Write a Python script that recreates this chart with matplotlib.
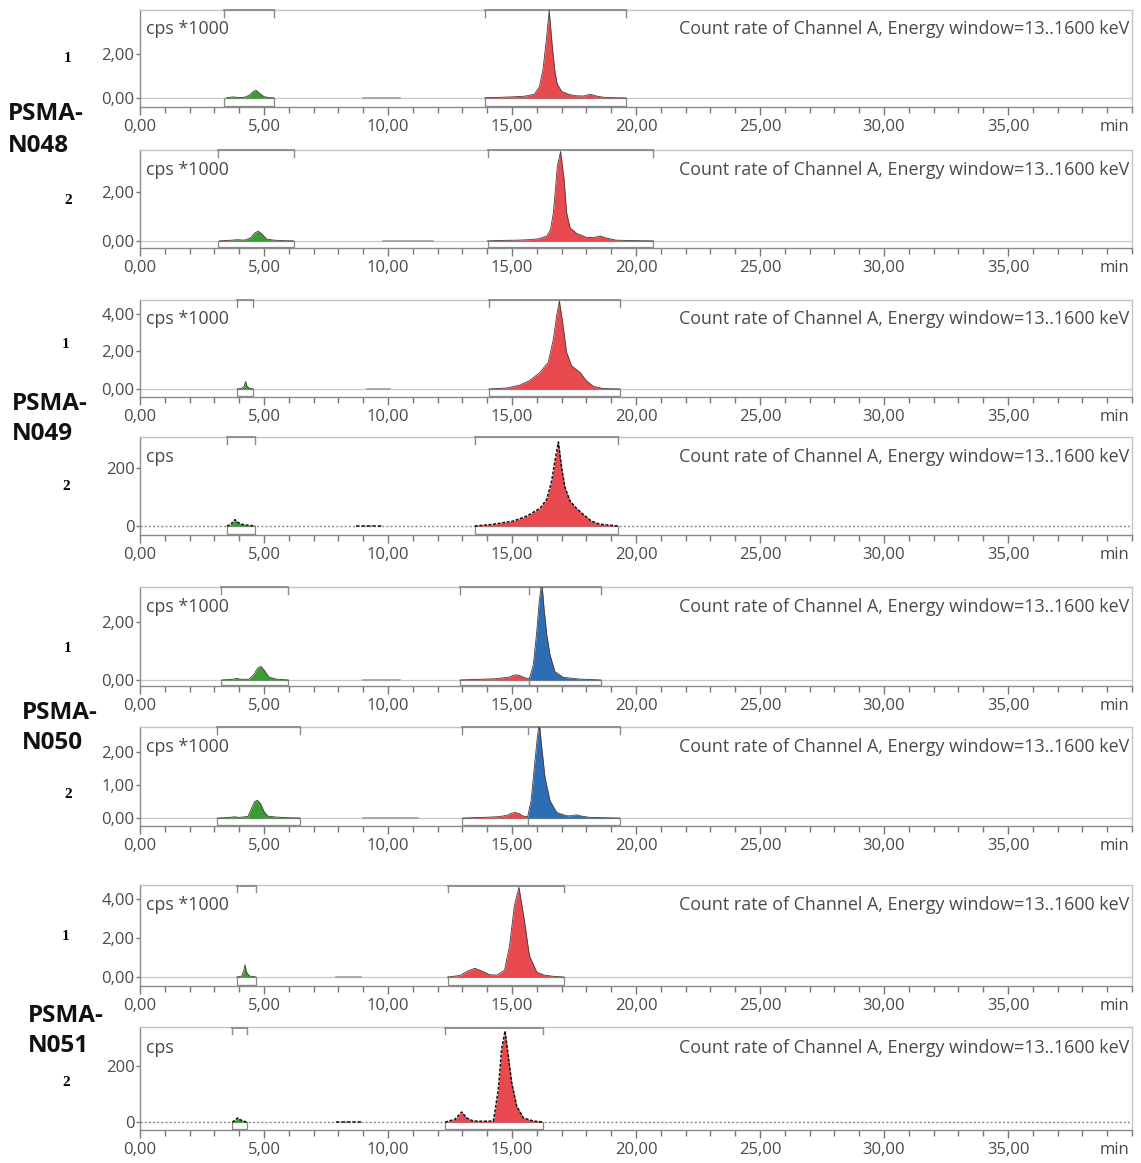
import matplotlib
matplotlib.use("Agg")
import matplotlib.pyplot as plt
from matplotlib.patches import Rectangle
from matplotlib.ticker import MultipleLocator, FixedLocator
import matplotlib.transforms as mtransforms

plt.rcParams['font.family'] = ['Open Sans', 'DejaVu Sans']

W, H = 1141, 1163

# ---- run data: retention time (min) / count rate ----
# PSMA-N048 run 1 (cps*1000)
n048_1_green_t = [3.5, 3.75, 3.95, 4.2, 4.4, 4.55, 4.68, 4.82, 5.0, 5.2, 5.4]
n048_1_green_y = [0.01, 0.05, 0.02, 0.03, 0.12, 0.28, 0.35, 0.22, 0.06, 0.02, 0.01]
n048_1_red_t = [13.9, 14.5, 15.0, 15.5, 15.9, 16.1, 16.25, 16.38, 16.5, 16.62, 16.73,
                16.82, 17.0, 17.3, 17.6, 17.9, 18.15, 18.4, 18.7, 19.1, 19.6]
n048_1_red_y = [0.01, 0.03, 0.05, 0.08, 0.17, 0.5, 1.3, 2.6, 3.98, 2.4, 1.2,
                0.65, 0.3, 0.16, 0.1, 0.09, 0.17, 0.09, 0.03, 0.01, 0.0]

# PSMA-N048 run 2 (cps*1000)
n048_2_green_t = [3.2, 3.7, 3.95, 4.2, 4.45, 4.62, 4.76, 4.9, 5.1, 5.4, 5.8, 6.2]
n048_2_green_y = [0.0, 0.03, 0.05, 0.03, 0.12, 0.32, 0.4, 0.3, 0.08, 0.03, 0.01, 0.0]
n048_2_red_t = [14.0, 14.6, 15.2, 15.7, 16.1, 16.4, 16.55, 16.67, 16.83, 16.96, 17.1,
                17.2, 17.34, 17.6, 18.0, 18.3, 18.55, 18.8, 19.2, 20.0, 20.7]
n048_2_red_y = [0.0, 0.02, 0.03, 0.05, 0.09, 0.2, 0.45, 1.16, 3.06, 3.65, 2.5,
                1.16, 0.54, 0.31, 0.14, 0.14, 0.2, 0.12, 0.03, 0.01, 0.0]

# PSMA-N049 run 1 (cps*1000)
n049_1_green_t = [3.92, 4.1, 4.2, 4.26, 4.32, 4.45, 4.57]
n049_1_green_y = [0.0, 0.03, 0.15, 0.4, 0.12, 0.02, 0.0]
n049_1_red_t = [14.07, 14.79, 15.32, 15.7, 16.1, 16.46, 16.67, 16.8, 16.91, 17.04,
                17.2, 17.4, 17.74, 18.0, 18.28, 18.68, 19.35]
n049_1_red_y = [0.0, 0.05, 0.21, 0.44, 0.85, 1.42, 2.67, 3.9, 4.7, 3.55,
                1.96, 1.24, 0.89, 0.44, 0.14, 0.02, 0.0]

# PSMA-N049 run 2 (cps)
n049_2_green_t = [3.5, 3.65, 3.75, 3.83, 3.95, 4.1, 4.3, 4.64]
n049_2_green_y = [0, 5, 14, 22, 12, 6, 3, 0]
n049_2_red_t = [13.5, 14.25, 15.05, 15.59, 16.13, 16.4, 16.6, 16.73, 16.87, 17.0,
                17.14, 17.34, 17.6, 17.87, 18.2, 18.55, 19.29]
n049_2_red_y = [0, 6, 17, 34, 61, 92, 155, 224, 290, 201,
                132, 86, 61, 40, 17, 6, 0]

# PSMA-N050 run 1 (cps*1000)
n050_1_green_t = [3.3, 3.7, 3.9, 4.1, 4.4, 4.6, 4.75, 4.88, 5.0, 5.2, 5.5, 5.98]
n050_1_green_y = [0, 0.02, 0.05, 0.02, 0.03, 0.2, 0.42, 0.47, 0.35, 0.1, 0.03, 0.0]
n050_1_red_t = [12.9, 13.6, 14.3, 14.9, 15.05, 15.19, 15.35, 15.5, 15.7]
n050_1_red_y = [0, 0.02, 0.04, 0.1, 0.16, 0.18, 0.14, 0.08, 0.04]
n050_1_blue_t = [15.7, 15.86, 16.0, 16.1, 16.2, 16.29, 16.4, 16.53, 16.73, 17.07, 17.74, 18.58]
n050_1_blue_y = [0.04, 0.53, 1.7, 2.75, 3.4, 2.5, 1.58, 0.88, 0.29, 0.09, 0.03, 0.0]

# PSMA-N050 run 2 (cps*1000)
n050_2_green_t = [3.12, 3.6, 3.8, 4.0, 4.35, 4.5, 4.62, 4.73, 4.85, 5.0, 5.15, 5.5, 6.0, 6.45]
n050_2_green_y = [0, 0.02, 0.04, 0.02, 0.05, 0.3, 0.5, 0.54, 0.45, 0.2, 0.06, 0.03, 0.01, 0]
n050_2_red_t = [13.0, 13.8, 14.4, 14.8, 14.95, 15.12, 15.3, 15.45, 15.63]
n050_2_red_y = [0, 0.02, 0.04, 0.08, 0.14, 0.17, 0.13, 0.06, 0.04]
n050_2_blue_t = [15.63, 15.77, 15.9, 16.02, 16.1, 16.2, 16.33, 16.53, 16.8, 17.2,
                 17.4, 17.6, 17.8, 18.15, 18.8, 19.35]
n050_2_blue_y = [0.04, 0.53, 1.54, 2.44, 2.9, 2.14, 1.23, 0.53, 0.17, 0.07,
                 0.07, 0.1, 0.06, 0.02, 0.01, 0.0]

# PSMA-N051 run 1 (cps*1000)
n051_1_green_t = [3.9, 4.1, 4.18, 4.23, 4.3, 4.4, 4.68]
n051_1_green_y = [0, 0.05, 0.3, 0.63, 0.25, 0.06, 0]
n051_1_red_t = [12.4, 12.9, 13.2, 13.5, 13.8, 14.1, 14.4, 14.7, 14.9, 15.1,
                15.28, 15.5, 15.7, 16.0, 16.3, 16.7, 17.1]
n051_1_red_y = [0, 0.08, 0.3, 0.45, 0.3, 0.12, 0.1, 0.36, 1.6, 3.7,
                4.6, 2.9, 1.1, 0.25, 0.1, 0.03, 0]

# PSMA-N051 run 2 (cps)
n051_2_green_t = [3.72, 3.85, 3.94, 4.05, 4.3]
n051_2_green_y = [0, 8, 15, 8, 0]
n051_2_red_t = [12.3, 12.7, 12.97, 13.17, 13.44, 13.8, 14.25, 14.45, 14.58, 14.72,
                14.85, 14.99, 15.19, 15.46, 15.86, 16.26]
n051_2_red_y = [0, 10, 36, 15, 4, 3, 4, 117, 260, 325,
                236, 140, 57, 15, 4, 0]

# integration windows (start, end) and small baseline segments
n048_1_windows = [[(3.4, 5.4)], [(13.9, 19.6)]]
n048_2_windows = [[(3.15, 6.2)], [(14.05, 20.7)]]
n049_1_windows = [[(3.92, 4.57)], [(14.07, 19.35)]]
n049_2_windows = [[(3.5, 4.64)], [(13.5, 19.29)]]
n050_1_windows = [[(3.27, 5.98)], [(12.9, 15.7), (15.7, 18.58)]]
n050_2_windows = [[(3.12, 6.45)], [(13.0, 15.63), (15.63, 19.35)]]
n051_1_windows = [[(3.9, 4.68)], [(12.4, 17.1)]]
n051_2_windows = [[(3.72, 4.3)], [(12.3, 16.26)]]
segments = [(9.0, 10.5), (9.8, 11.8), (9.15, 10.1), (8.7, 9.8),
            (9.0, 10.5), (9.0, 11.2), (7.9, 8.9), (7.9, 8.9)]

y_limits = [(-0.41, 4.0), (-0.29, 3.71), (-0.43, 4.75), (-31, 307),
            (-0.21, 3.23), (-0.24, 2.76), (-0.46, 4.72), (-28, 339)]
y_ticks = [[0, 2], [0, 2], [0, 2, 4], [0, 200], [0, 2], [0, 1, 2], [0, 2, 4], [0, 200]]
y_tick_labels = [["0,00", "2,00"], ["0,00", "2,00"], ["0,00", "2,00", "4,00"], ["0", "200"],
                 ["0,00", "2,00"], ["0,00", "1,00", "2,00"], ["0,00", "2,00", "4,00"], ["0", "200"]]
units = ["cps *1000", "cps *1000", "cps *1000", "cps", "cps *1000", "cps *1000", "cps *1000", "cps"]
x_tick_labels = ["0,00", "5,00", "10,00", "15,00", "20,00", "25,00", "30,00", "35,00"]

samples = ["N048", "N049", "N050", "N051"]

RED, GREEN, BLUE = "#e8494f", "#3d9b35", "#2c6db3"

traces = [
    [(n048_1_green_t, n048_1_green_y, GREEN), (n048_1_red_t, n048_1_red_y, RED)],
    [(n048_2_green_t, n048_2_green_y, GREEN), (n048_2_red_t, n048_2_red_y, RED)],
    [(n049_1_green_t, n049_1_green_y, GREEN), (n049_1_red_t, n049_1_red_y, RED)],
    [(n049_2_green_t, n049_2_green_y, GREEN), (n049_2_red_t, n049_2_red_y, RED)],
    [(n050_1_green_t, n050_1_green_y, GREEN), (n050_1_red_t, n050_1_red_y, RED),
     (n050_1_blue_t, n050_1_blue_y, BLUE)],
    [(n050_2_green_t, n050_2_green_y, GREEN), (n050_2_red_t, n050_2_red_y, RED),
     (n050_2_blue_t, n050_2_blue_y, BLUE)],
    [(n051_1_green_t, n051_1_green_y, GREEN), (n051_1_red_t, n051_1_red_y, RED)],
    [(n051_2_green_t, n051_2_green_y, GREEN), (n051_2_red_t, n051_2_red_y, RED)],
]
windows = [n048_1_windows, n048_2_windows, n049_1_windows, n049_2_windows,
           n050_1_windows, n050_2_windows, n051_1_windows, n051_2_windows]

# panel boxes in pixels: (top, bottom)
panel_px = [(10, 107), (150, 248), (300, 397), (437, 535),
            (587, 686), (727, 826), (885, 986), (1027, 1130)]
LEFT_PX, RIGHT_PX = 140, 1132

TEXT_GREY = "#4a4a4a"

fig = plt.figure(figsize=(W / 100, H / 100), dpi=100)


def draw_panel(i):
    top, bot = panel_px[i]
    ax = fig.add_axes([LEFT_PX / W, 1 - bot / H, (RIGHT_PX - LEFT_PX) / W, (bot - top) / H])
    ylo, yhi = y_limits[i]
    ax.set_xlim(0, 40)
    ax.set_ylim(ylo, yhi)
    cps_only = units[i] == "cps"

    for side, col in [("left", "#8a8a8a"), ("bottom", "#8a8a8a"),
                      ("top", "#c4c4c4"), ("right", "#c4c4c4")]:
        ax.spines[side].set_color(col)
        ax.spines[side].set_linewidth(1.0)

    ax.xaxis.set_major_locator(MultipleLocator(5))
    ax.xaxis.set_minor_locator(MultipleLocator(1))
    ax.set_xticks(range(0, 36, 5))
    ax.set_xticklabels(x_tick_labels)
    ax.yaxis.set_major_locator(FixedLocator(y_ticks[i]))
    ax.set_yticklabels(y_tick_labels[i])
    ax.tick_params(axis="x", which="major", length=5.5, width=1, color="#777777",
                   labelsize=12, labelcolor=TEXT_GREY, pad=3)
    ax.tick_params(axis="x", which="minor", length=4, width=1, color="#777777")
    ax.tick_params(axis="y", length=3, width=1, color="#777777",
                   labelsize=12, labelcolor=TEXT_GREY, pad=1)

    ax.annotate("min", xy=(39.3, 0), xycoords=("data", "axes fraction"),
                xytext=(0, -8.5), textcoords="offset points", ha="center", va="top",
                fontsize=12, color=TEXT_GREY, annotation_clip=False)

    # baseline
    if cps_only:
        ax.plot([0, 40], [0, 0], color="#8a8a8a", lw=1.0, ls=(0, (1.5, 1.5)), zorder=2)
    else:
        ax.axhline(0, color="#c8c8c8", lw=0.9, zorder=2)

    s0, s1 = segments[i]
    ax.plot([s0, s1], [0, 0], color="#333333" if cps_only else "#999999",
            lw=1.3 if cps_only else 1.1, ls=(0, (2, 1)) if cps_only else "-", zorder=3)

    # integration windows: box under the baseline and bracket on top
    box_lo = ylo * 0.88
    trans = mtransforms.blended_transform_factory(ax.transData, ax.transAxes)
    for group in windows[i]:
        edges = []
        for (w0, w1) in group:
            ax.add_patch(Rectangle((w0, box_lo), w1 - w0, -box_lo, facecolor="white",
                                   edgecolor="#8a8a8a", lw=0.9, zorder=3))
            edges += [w0, w1]
        g0, g1 = group[0][0], group[-1][1]
        ax.plot([g0, g1], [0.995, 0.995], color="#8a8a8a", lw=1.3, transform=trans,
                zorder=5, clip_on=False)
        for e in sorted(set(edges)):
            ax.plot([e, e], [0.995, 0.93], color="#8a8a8a", lw=1.0, transform=trans,
                    zorder=5, clip_on=False)

    # peaks
    for t, y, col in traces[i]:
        ax.fill_between(t, 0, y, color=col, lw=0, zorder=4)
        if cps_only:
            ax.plot(t, y, color="#111111", lw=1.1, ls=(0, (2, 1)), zorder=5)
        else:
            ax.plot(t, y, color="#4a3a3a", lw=0.6, zorder=5)

    ax.text(0.006, 0.8, units[i], transform=ax.transAxes, ha="left", va="center",
            fontsize=12.9, color=TEXT_GREY)
    ax.text(0.997, 0.8, "Count rate of Channel A, Energy window=13..1600 keV",
            transform=ax.transAxes, ha="right", va="center", fontsize=12.9, color=TEXT_GREY)
    return ax


for i in range(8):
    draw_panel(i)

# run numbers and sample names on the left
run_label_px = [(68, 59), (68, 201), (66, 345), (66, 486),
                (68, 648), (68, 794), (66, 937), (66, 1082)]
for i, (x, y) in enumerate(run_label_px):
    fig.text(x / W, 1 - y / H, "1" if i % 2 == 0 else "2", ha="center", va="center",
             fontsize=11, fontweight="bold", family=["Liberation Serif", "DejaVu Serif"])

sample_label_px = [(8, 114, 146), (12, 404, 434), (22, 713, 743), (28, 1016, 1046)]
for name, (x, y1, y2) in zip(samples, sample_label_px):
    fig.text(x / W, 1 - y1 / H, "PSMA-", ha="left", va="center", fontsize=17.5,
             fontweight="bold", color="#111111")
    fig.text(x / W, 1 - y2 / H, name, ha="left", va="center", fontsize=17.5,
             fontweight="bold", color="#111111")

fig.savefig("out.png", dpi=100, facecolor="white")
